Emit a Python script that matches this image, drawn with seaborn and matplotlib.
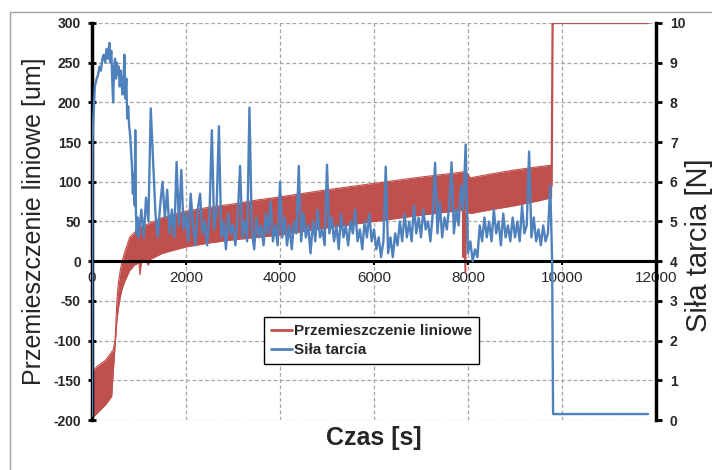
import numpy as np
import pandas as pd
import matplotlib
matplotlib.use("Agg")
import matplotlib.pyplot as plt
import seaborn as sns
from matplotlib.lines import Line2D
from matplotlib.patches import Rectangle

# ---------------- data ----------------
# Linear displacement [um]: envelope of the dense oscillating signal
disp_t = [0, 100, 300, 420, 450, 490, 530, 560, 600, 640, 700, 800, 900, 1000,
          1020, 1050, 1150, 1200, 1230, 1500, 2000, 2500, 3000, 3500, 4000, 5000,
          6000, 7000, 7850, 7960, 8050, 8500, 9000, 9500, 9780]
disp_upper = [-140, -133, -124, -114, -112, -100, -49, -28, -12, 0, 12, 30, 36, 42,
              43, 44, 46, 47, 48, 55, 63, 68, 72, 77, 81, 90,
              98, 106, 112, 113, 105, 110, 115, 119, 121]
disp_lower = [-198, -192, -180, -170, -141, -108, -75, -60, -45, -35, -25, -12, -5, -2,
              -17, -2, 0, -5, 2, 10, 18, 23, 27, 30, 33, 42,
              50, 58, 64, 64, 60, 65, 70, 76, 80]
disp_dip_t = [7890, 7900, 7915, 7945, 7960]
disp_dip = [64, 5, 64, -14, 62]
disp_tail_t = [9780, 9800, 9820, 11830]
disp_tail = [95, 298, 300, 300]

# Friction force [N]
force_start_t = [0, 10, 30, 60, 100, 130, 160, 190, 220, 250, 280, 310, 340, 370, 390,
                 410, 430, 450, 470, 490, 510, 530, 550, 570, 590, 610, 630, 650, 670,
                 690, 710, 730, 750, 770, 790, 810, 830, 850, 870, 890, 910, 920, 935,
                 950, 970, 985]
force_start = [0.1, 7.0, 7.6, 8.4, 8.6, 8.7, 8.9, 8.8, 9.1, 9.2, 9.0, 9.35, 9.1, 9.5, 9.0,
               9.3, 8.6, 8.0, 8.9, 9.1, 8.6, 9.0, 8.7, 8.9, 8.4, 8.8, 8.5, 8.2, 8.6,
               9.2, 8.1, 8.6, 7.6, 7.9, 7.4, 7.2, 6.8, 6.4, 5.7, 6.2, 5.4, 7.3, 5.2,
               4.7, 5.1, 4.6]
force_sample_start = 1000
force_sample_dt = 50
force_noise = [
    # 1000 - 1950
    4.7, 5.3, 4.6, 5.6, 5.0, 7.85, 6.5, 5.2, 4.6, 5.4, 6.0, 5.1, 5.8, 4.7, 5.3, 4.6, 6.5, 4.9, 6.3, 4.8,
    # 2000 - 2950
    5.2, 4.5, 5.7, 4.9, 4.4, 5.3, 5.7, 4.7, 5.0, 4.4, 5.2, 7.3, 4.8, 5.3, 7.4, 4.6, 5.0, 4.3, 5.2, 4.7,
    # 3000 - 3950
    4.9, 4.4, 5.1, 6.4, 4.6, 5.0, 4.5, 7.87, 4.8, 4.3, 5.1, 4.6, 4.9, 4.4, 5.2, 4.7, 5.5, 4.5, 4.9, 4.4,
    # 4000 - 4950
    6.0, 4.6, 5.1, 4.4, 4.9, 4.3, 5.0, 4.7, 6.4, 4.5, 5.2, 4.6, 4.9, 4.2, 5.0, 4.5, 5.3, 4.6, 4.8, 4.4,
    # 5000 - 5950
    6.43, 4.7, 5.1, 4.5, 4.9, 4.3, 5.2, 4.6, 4.9, 4.4, 5.0, 4.7, 5.3, 4.5, 4.8, 4.3, 5.0, 4.6, 5.2, 4.5,
    # 6000 - 6950
    4.8, 4.3, 4.6, 4.1, 4.5, 6.38, 4.2, 4.6, 4.1, 4.7, 4.4, 5.0, 4.5, 5.2, 4.6, 5.0, 4.5, 5.4, 4.7, 5.1,
    # 7000 - 7950
    4.6, 5.3, 4.8, 5.0, 4.5, 5.2, 6.48, 4.7, 5.5, 4.6, 5.1, 4.8, 5.4, 6.49, 4.7, 5.3, 4.9, 5.9, 5.3, 6.94,
    # 8000 - 8950
    4.2, 4.5, 4.0, 4.3, 4.1, 4.9, 4.5, 5.1, 4.6, 5.0, 4.5, 5.3, 4.7, 5.0, 4.4, 5.2, 4.6, 4.9, 4.5, 5.1,
    # 9000 - 9750
    4.6, 5.0, 4.5, 5.4, 4.7, 4.9, 6.76, 4.6, 5.1, 4.5, 4.8, 4.4, 4.9, 4.5, 4.7, 5.9,
]
force_tail_t = [9790, 9810, 11830]
force_tail = [4.0, 0.15, 0.15]

x_ticks = [0, 2000, 4000, 6000, 8000, 10000, 12000]
left_ticks = [-200, -150, -100, -50, 0, 50, 100, 150, 200, 250, 300]
right_ticks = [0, 1, 2, 3, 4, 5, 6, 7, 8, 9, 10]
label_disp = "Przemieszczenie liniowe"
label_force = "Siła tarcia"

# ---------------- styling ----------------
sns.set_theme(style="white")
plt.rcParams['font.family'] = ['Liberation Sans', 'DejaVu Sans']

RED = "#C0504D"
BLUE = "#4F81BD"

noise_t = force_sample_start + force_sample_dt * np.arange(len(force_noise))
force_df = pd.DataFrame({
    "t": np.concatenate([force_start_t, noise_t, force_tail_t]),
    "force": np.concatenate([force_start, force_noise, force_tail]),
})
disp_df = pd.DataFrame({"t": disp_t, "upper": disp_upper, "lower": disp_lower})

fig = plt.figure(figsize=(7.12, 4.70), dpi=100)
ax = fig.add_axes([92 / 712, 1 - 420 / 470, 564 / 712, 397 / 470])
ax2 = ax.twinx()

# red displacement band
ax.fill_between(disp_df["t"], disp_df["lower"], disp_df["upper"], color=RED, lw=0)
sns.lineplot(data=disp_df, x="t", y="upper", ax=ax, color=RED, lw=0.8,
             sort=False, estimator=None)
sns.lineplot(data=disp_df, x="t", y="lower", ax=ax, color=RED, lw=0.8,
             sort=False, estimator=None)
sns.lineplot(x=disp_dip_t, y=disp_dip, ax=ax, color=RED, lw=1.4, sort=False, estimator=None)
sns.lineplot(x=disp_tail_t, y=disp_tail, ax=ax, color=RED, lw=1.6, sort=False, estimator=None)

# blue friction force
sns.lineplot(data=force_df, x="t", y="force", ax=ax2, color=BLUE, lw=1.7,
             sort=False, estimator=None)

# axes limits and ticks
ax.set_xlim(0, 12000)
ax.set_ylim(-200, 300)
ax2.set_ylim(0, 10)
ax.set_xticks(x_ticks)
ax.set_yticks(left_ticks)
ax2.set_yticks(right_ticks)
ax.set_xticklabels([str(v) for v in x_ticks], fontweight="bold", fontsize=10)
ax.set_yticklabels([str(v) for v in left_ticks], fontweight="bold", fontsize=10)
ax2.set_yticklabels([str(v) for v in right_ticks], fontweight="bold", fontsize=10)

ax.grid(True, linestyle=(0, (3, 2)), color="#a6a6a6", lw=0.9)
ax2.grid(False)
ax.set_axisbelow(True)

for s in ["top", "right"]:
    ax.spines[s].set_visible(False)
ax.spines["bottom"].set_position(("data", 0))
ax.spines["bottom"].set_color("black")
ax.spines["bottom"].set_linewidth(2.2)
ax.spines["left"].set_color("black")
ax.spines["left"].set_linewidth(2.5)
for s in ["top", "left", "bottom"]:
    ax2.spines[s].set_visible(False)
ax2.spines["right"].set_color("black")
ax2.spines["right"].set_linewidth(2.5)

ax.tick_params(axis="y", direction="inout", length=6, width=2, color="black", pad=5, left=True)
ax.tick_params(axis="x", direction="out", length=3, width=1.5, color="black", pad=4, bottom=True)
ax2.tick_params(axis="y", direction="out", length=4, width=2, color="black", pad=6, right=True)

ax.set_xlabel("Czas [s]", fontsize=18, fontweight="bold")
ax.set_ylabel("Przemieszczenie liniowe [um]", fontsize=18)
ax2.set_ylabel("Siła tarcia [N]", fontsize=21)
ax.xaxis.set_label_coords(0.5, -0.015)
ax.yaxis.set_label_coords(-0.082, 0.5)
ax2.yaxis.set_label_coords(1.052, 0.44)

handles = [Line2D([], [], color=RED, lw=2), Line2D([], [], color=BLUE, lw=2)]
leg = ax2.legend(handles, [label_disp, label_force], loc="center",
                 bbox_to_anchor=(0.495, 0.2), frameon=True, fancybox=False,
                 framealpha=1, edgecolor="black", handlelength=1.4,
                 handletextpad=0.1, labelspacing=0.3, borderpad=0.45,
                 borderaxespad=0, prop={"weight": "bold", "size": 11})
leg.get_frame().set_linewidth(1.0)

# outer chart frame
fig.patches.append(Rectangle((10 / 712, -0.1), 1.2, 1 - 12 / 470 + 0.1,
                             transform=fig.transFigure, fill=False,
                             edgecolor="#a0a0a0", lw=1.0))

fig.savefig("out.png", dpi=100)
